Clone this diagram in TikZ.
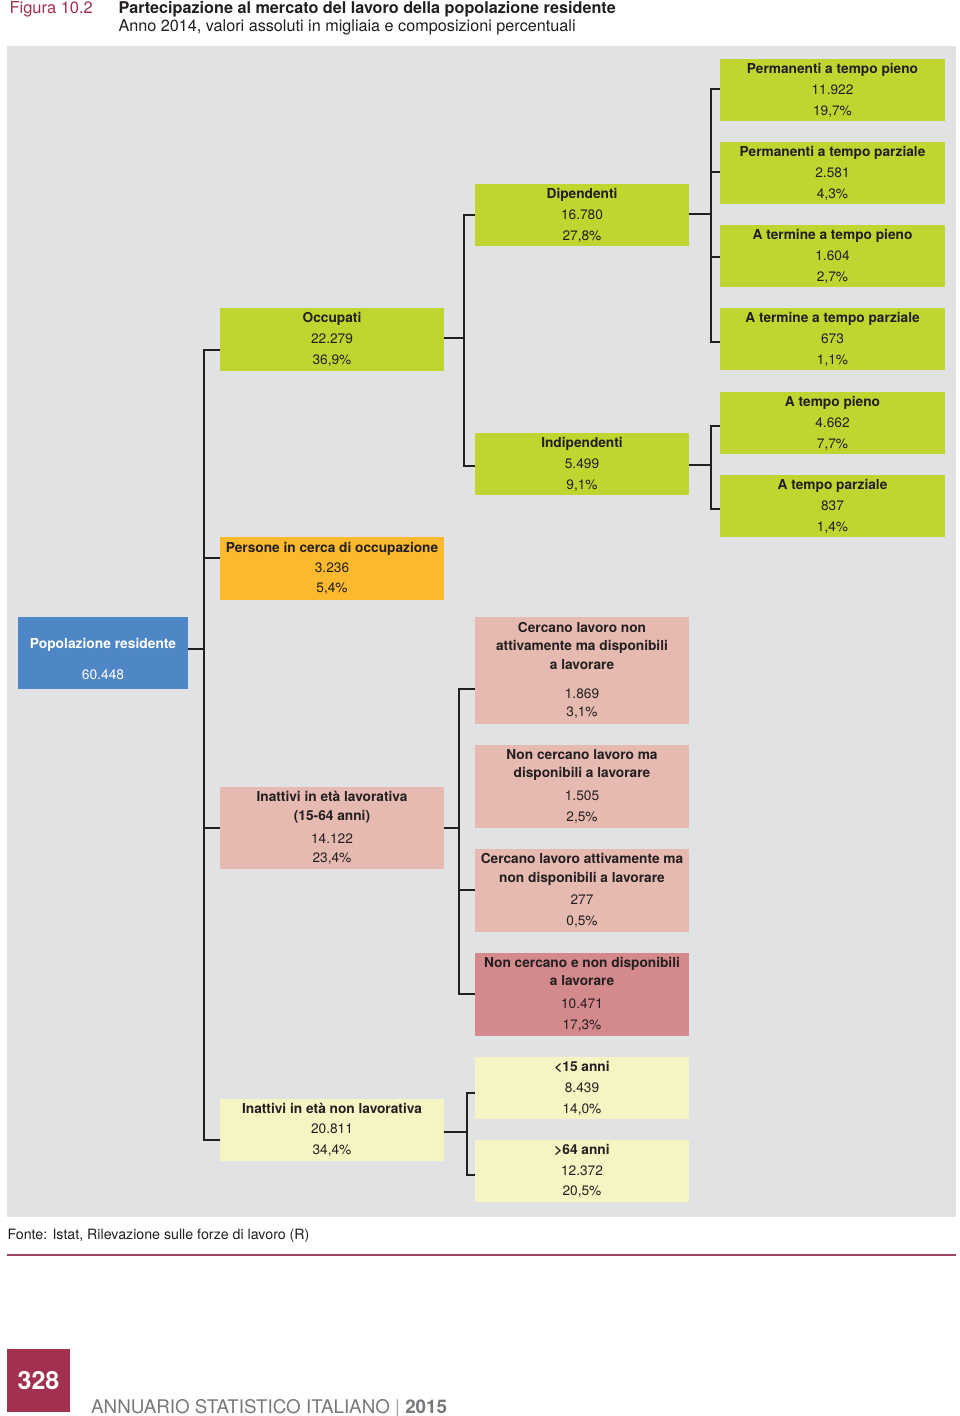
\documentclass[tikz,border=0pt]{standalone}
\usepackage{fontspec}
\setmainfont{TeX Gyre Heros}
\definecolor{bggray}{HTML}{E1E2E4}
\definecolor{cgreen}{HTML}{C1D531}
\definecolor{corange}{HTML}{FBB92D}
\definecolor{cblue}{HTML}{4F86C6}
\definecolor{cpink}{HTML}{E6BAB1}
\definecolor{cpinkdk}{HTML}{D48A8C}
\definecolor{cyellow}{HTML}{F7F4C3}
\definecolor{cred}{HTML}{A2304E}
\definecolor{cline}{HTML}{A04560}
\definecolor{ctext}{HTML}{231F20}
\definecolor{cfoot}{HTML}{77787B}
\tikzset{
  bx/.style={inner sep=0pt, align=center, text=ctext,
    font=\fontsize{13.7}{18.5}\selectfont},
  wide/.style={minimum width=225pt},
  mid/.style={minimum width=214pt},
  lft/.style={minimum width=224pt},
  conn/.style={draw=ctext, line width=1.8pt}
}
\begin{document}
\begin{tikzpicture}[x=1pt,y=-1pt]
\useasboundingbox (0,0) rectangle (960,1416);
\fill[white] (0,0) rectangle (960,1416);
% header
\node[anchor=west, text=cred, font=\fontsize{16.5}{18}\selectfont] (fig) at (6,9.5) {Figura 10.2};
\node[anchor=west, text=ctext, font=\bfseries\fontsize{16.2}{18}\selectfont] (tit) at (115,9.5) {Partecipazione al mercato del lavoro della popolazione residente};
\node[anchor=west, text=ctext, font=\fontsize{16.2}{18}\selectfont] (sub) at (115,27.5) {Anno 2014, valori assoluti in migliaia e composizioni percentuali};
% background
\fill[bggray] (7,46) rectangle (956,1217);

% level 3 (right)
\node[bx, wide, minimum height=62pt, fill=cgreen] (ptp) at (832.5,90) {\textbf{Permanenti a tempo pieno}\\[2.5pt]11.922\\[2.5pt]19,7\%};
\node[bx, wide, minimum height=62pt, fill=cgreen] (ptz) at (832.5,173) {\textbf{Permanenti a tempo parziale}\\[2.5pt]2.581\\[2.5pt]4,3\%};
\node[bx, wide, minimum height=62pt, fill=cgreen] (ttp) at (832.5,256) {\textbf{A termine a tempo pieno}\\[2.5pt]1.604\\[2.5pt]2,7\%};
\node[bx, wide, minimum height=62pt, fill=cgreen] (ttz) at (832.5,339) {\textbf{A termine a tempo parziale}\\[2.5pt]673\\[2.5pt]1,1\%};
\node[bx, wide, minimum height=62pt, fill=cgreen] (atp) at (832.5,423) {\textbf{A tempo pieno}\\[2.5pt]4.662\\[2.5pt]7,7\%};
\node[bx, wide, minimum height=62pt, fill=cgreen] (atz) at (832.5,506) {\textbf{A tempo parziale}\\[2.5pt]837\\[2.5pt]1,4\%};

% level 2 (middle)
\node[bx, mid, minimum height=62pt, fill=cgreen] (dip) at (582,215) {\textbf{Dipendenti}\\[2.5pt]16.780\\[2.5pt]27,8\%};
\node[bx, mid, minimum height=62pt, fill=cgreen] (ind) at (582,464) {\textbf{Indipendenti}\\[2.5pt]5.499\\[2.5pt]9,1\%};
\node[bx, mid, minimum height=107pt, fill=cpink] (c1) at (582,670.5) {\textbf{Cercano lavoro non}\\\textbf{attivamente ma disponibili}\\\textbf{a lavorare}\\[10.5pt]1.869\\3,1\%};
\node[bx, mid, minimum height=83pt, fill=cpink] (c2) at (582,786.5) {\textbf{Non cercano lavoro ma}\\\textbf{disponibili a lavorare}\\[4.5pt]1.505\\[2.5pt]2,5\%};
\node[bx, mid, minimum height=83pt, fill=cpink] (c3) at (582,890.5) {\textbf{Cercano lavoro attivamente ma}\\\textbf{non disponibili a lavorare}\\[4pt]277\\[2.5pt]0,5\%};
\node[bx, mid, minimum height=83pt, fill=cpinkdk] (c4) at (582,994.5) {\textbf{Non cercano e non disponibili}\\\textbf{a lavorare}\\[4.5pt]10.471\\[2.5pt]17,3\%};
\node[bx, mid, minimum height=62pt, fill=cyellow] (y15) at (582,1088) {\textbf{<15 anni}\\[2.5pt]8.439\\[2.5pt]14,0\%};
\node[bx, mid, minimum height=62pt, fill=cyellow] (y64) at (582,1171) {\textbf{>64 anni}\\[2.5pt]12.372\\[1pt]20,5\%};

% level 1
\node[bx, lft, minimum height=63pt, fill=cgreen] (occ) at (332,339.5) {\textbf{Occupati}\\[2.5pt]22.279\\[2.5pt]36,9\%};
\node[bx, lft, minimum height=63pt, fill=corange] (cer) at (332,568.5) {\textbf{Persone in cerca di occupazione}\\[1.5pt]3.236\\[1.5pt]5,4\%};
\node[bx, lft, minimum height=82pt, fill=cpink] (inl) at (332,828) {\textbf{Inattivi in età lavorativa}\\\textbf{(15-64 anni)}\\[4.5pt]14.122\\[1pt]23,4\%};
\node[bx, lft, minimum height=62pt, fill=cyellow] (inn) at (332,1130) {\textbf{Inattivi in età non lavorativa}\\[1.5pt]20.811\\[2.5pt]34,4\%};

% root
\node[fill=cblue, minimum width=170pt, minimum height=72pt, inner sep=0pt] (pop) at (103,653) {};
\node[text=white, font=\bfseries\fontsize{13.8}{16}\selectfont] (popt) at (103,645) {Popolazione residente};
\node[text=white, font=\fontsize{13.8}{16}\selectfont] (popn) at (103,675) {60.448};

% junction coordinates
\coordinate (j0) at (204,649);
\coordinate (j0t) at (204,350);
\coordinate (j0a) at (204,558);
\coordinate (j0b) at (204,828);
\coordinate (j0c) at (204,1140);
\coordinate (j1) at (464,338);
\coordinate (j1t) at (464,215);
\coordinate (j1b) at (464,466);
\coordinate (j2) at (711,214);
\coordinate (j2a) at (711,89);
\coordinate (j2b) at (711,172);
\coordinate (j2c) at (711,257);
\coordinate (j2d) at (711,342);
\coordinate (j3) at (711,465);
\coordinate (j3a) at (711,426);
\coordinate (j3b) at (711,509);
\coordinate (j4) at (459,828);
\coordinate (j4a) at (459,689);
\coordinate (j4c) at (459,890);
\coordinate (j4d) at (459,994);
\coordinate (j5) at (467,1132);
\coordinate (j5a) at (467,1093);
\coordinate (j5b) at (467,1175);

% connectors level 0
\draw[conn] (pop.east |- j0) -- (j0);
\draw[conn] (occ.west |- j0t) -- (j0t) -- (j0c) -- (inn.west |- j0c);
\draw[conn] (j0a) -- (cer.west |- j0a);
\draw[conn] (j0b) -- (inl.west |- j0b);
% Occupati
\draw[conn] (occ.east |- j1) -- (j1);
\draw[conn] (dip.west |- j1t) -- (j1t) -- (j1b) -- (ind.west |- j1b);
% Dipendenti
\draw[conn] (dip.east |- j2) -- (j2);
\draw[conn] (ptp.west |- j2a) -- (j2a) -- (j2d) -- (ttz.west |- j2d);
\draw[conn] (j2b) -- (ptz.west |- j2b);
\draw[conn] (j2c) -- (ttp.west |- j2c);
% Indipendenti
\draw[conn] (ind.east |- j3) -- (j3);
\draw[conn] (atp.west |- j3a) -- (j3a) -- (j3b) -- (atz.west |- j3b);
% Inattivi lavorativa
\draw[conn] (inl.east |- j4) -- (j4);
\draw[conn] (c1.west |- j4a) -- (j4a) -- (j4d) -- (c4.west |- j4d);
\draw[conn] (j4c) -- (c3.west |- j4c);
% Inattivi non lavorativa
\draw[conn] (inn.east |- j5) -- (j5);
\draw[conn] (y15.west |- j5a) -- (j5a) -- (j5b) -- (y64.west |- j5b);

% footer
\node[anchor=west, text=ctext, font=\fontsize{14.2}{17}\selectfont] (src) at (4,1236) {Fonte: Istat, Rilevazione sulle forze di lavoro (R)};
\coordinate (fl) at (7,1255);
\coordinate (fr) at (956,1255);
\draw[cline, line width=1.6pt] (fl) -- (fr);
\node[fill=cred, minimum width=63pt, minimum height=63pt, inner sep=0pt] (pg) at (38.5,1380.5) {};
\node[text=white, font=\bfseries\fontsize{25}{28}\selectfont] (pgn) at (38.5,1381) {328};
\node[anchor=base west, text=cfoot, font=\fontsize{18.8}{22}\selectfont, inner sep=0pt] (ann) at (91,1413) {ANNUARIO STATISTICO ITALIANO \textcolor{cfoot!70}{|} \textbf{2015}};
\end{tikzpicture}
\end{document}
